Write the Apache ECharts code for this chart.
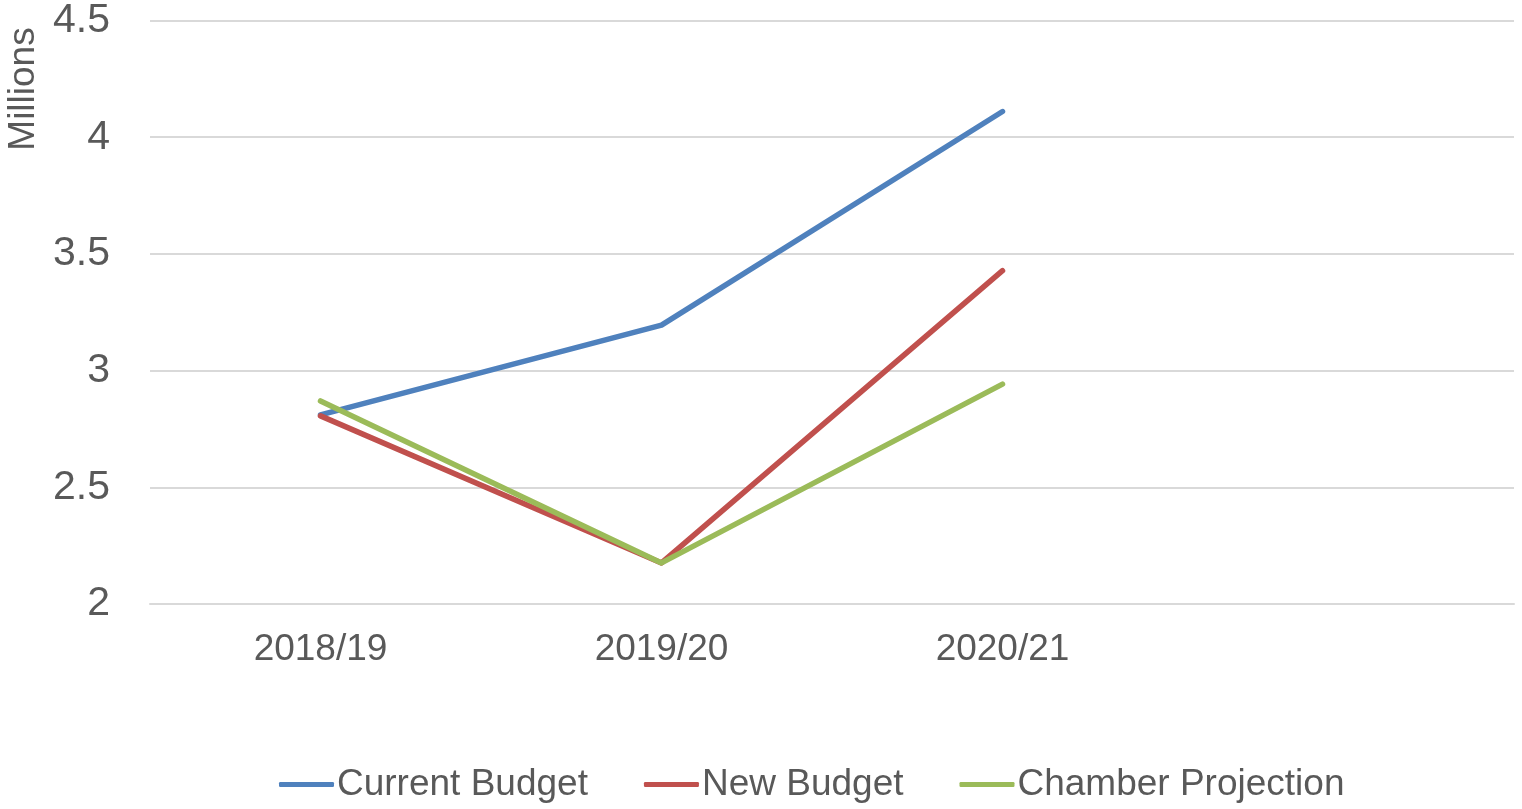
<!DOCTYPE html>
<html><head><meta charset="utf-8">
<script src="https://cdn.jsdelivr.net/npm/echarts@6/dist/echarts.min.js"></script>
<style>html,body{margin:0;padding:0;background:#fff}#c{width:1522px;height:809px}</style>
</head><body><div id="c"></div>
<script>
const categories = ['2018/19', '2019/20', '2020/21', ''];
const currentBudget = [2.81, 3.195, 4.11, null];
const newBudget = [2.806, 2.176, 3.428, null];
const chamberProjection = [2.87, 2.176, 2.942, null];
const yTicks = { min: 2, max: 4.5, interval: 0.5 };

const chart = echarts.init(document.getElementById('c'));
const font = 'Liberation Sans, Arial, sans-serif';
const mk = (name, data, color) => ({
  name, type: 'line', data, showSymbol: false, symbol: 'none',
  lineStyle: { width: 5.5, color, cap: 'round', join: 'round' },
  itemStyle: { color }, animation: false
});
chart.setOption({
  animation: false,
  grid: { left: 150, right: 8, top: 18, bottom: 205, containLabel: false },
  xAxis: {
    type: 'category', data: categories, boundaryGap: true,
    axisLine: { lineStyle: { color: '#d9d9d9', width: 2 } },
    axisTick: { show: false },
    axisLabel: { color: '#595959', fontSize: 37, fontFamily: font, margin: 27, interval: 0 }
  },
  yAxis: {
    type: 'value', min: yTicks.min, max: yTicks.max, interval: yTicks.interval,
    axisLine: { show: false }, axisTick: { show: false },
    splitLine: { lineStyle: { color: '#d9d9d9', width: 2 } },
    axisLabel: { color: '#595959', fontSize: 41, fontFamily: font, margin: 40,
      formatter: v => String(v) }
  },
  legend: {
    bottom: 1, left: 274, itemGap: 56, itemWidth: 55, itemHeight: 5,
    icon: 'roundRect',
    textStyle: { color: '#595959', fontSize: 37, fontFamily: font, padding: [0, 0, 0, -2] },
    data: ['Current Budget', 'New Budget', 'Chamber Projection']
  },
  graphic: [{
    type: 'text', x: 24, y: 89, rotation: Math.PI / 2,
    style: { text: 'Millions', fill: '#595959', font: '37px ' + font, align: 'center', verticalAlign: 'middle' }
  }],
  series: [
    mk('Current Budget', currentBudget, '#4F81BD'),
    mk('New Budget', newBudget, '#C0504D'),
    mk('Chamber Projection', chamberProjection, '#9BBB59')
  ]
});
</script></body></html>
